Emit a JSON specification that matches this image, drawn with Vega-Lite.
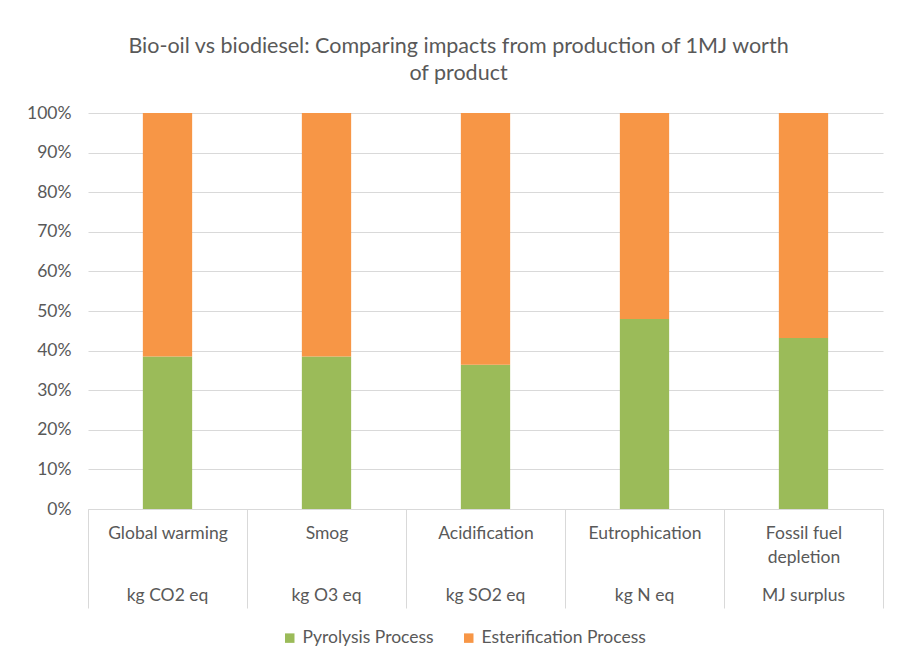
{
  "$schema": "https://vega.github.io/schema/vega-lite/v6.json",
  "width": 795,
  "height": 396,
  "autosize": "none",
  "padding": {"left": 88, "top": 113, "right": 15, "bottom": 157},
  "background": "white",
  "config": {
    "font": "Lato",
    "view": {"stroke": null},
    "axis": {"labelFont": "Lato", "labelColor": "#595959", "labelFontSize": 17.5}
  },
  "title": {
    "text": ["Bio-oil vs biodiesel: Comparing impacts from production of 1MJ worth", "of product"],
    "font": "Lato",
    "fontSize": 21.5,
    "fontWeight": "normal",
    "color": "#595959",
    "lineHeight": 27,
    "anchor": "middle",
    "dx": -27,
    "offset": 20
  },
  "data": {
    "values": [
      {"category": "Global warming", "unit": "kg CO2 eq", "process": "Pyrolysis Process", "share": 0.385},
      {"category": "Global warming", "unit": "kg CO2 eq", "process": "Esterification Process", "share": 0.615},
      {"category": "Smog", "unit": "kg O3 eq", "process": "Pyrolysis Process", "share": 0.385},
      {"category": "Smog", "unit": "kg O3 eq", "process": "Esterification Process", "share": 0.615},
      {"category": "Acidification", "unit": "kg SO2 eq", "process": "Pyrolysis Process", "share": 0.364},
      {"category": "Acidification", "unit": "kg SO2 eq", "process": "Esterification Process", "share": 0.636},
      {"category": "Eutrophication", "unit": "kg N eq", "process": "Pyrolysis Process", "share": 0.48},
      {"category": "Eutrophication", "unit": "kg N eq", "process": "Esterification Process", "share": 0.52},
      {"category": "Fossil fuel depletion", "unit": "MJ surplus", "process": "Pyrolysis Process", "share": 0.432},
      {"category": "Fossil fuel depletion", "unit": "MJ surplus", "process": "Esterification Process", "share": 0.568}
    ]
  },
  "layer": [
    {
      "mark": {"type": "bar", "width": {"band": 0.31}},
      "encoding": {
        "x": {
          "field": "category",
          "type": "nominal",
          "sort": null,
          "scale": {"paddingInner": 0, "paddingOuter": 0},
          "axis": {
            "title": null,
            "orient": "bottom",
            "labelAngle": 0,
            "labelBaseline": "top",
            "labelPadding": -84,
            "labelLineHeight": 24,
            "labelExpr": "datum.value == 'Fossil fuel depletion' ? ['Fossil fuel', 'depletion'] : datum.value",
            "tickBand": "extent",
            "tickSize": 99,
            "tickColor": "#d9d9d9",
            "domainColor": "#d9d9d9"
          }
        },
        "y": {
          "field": "share",
          "type": "quantitative",
          "stack": "zero",
          "scale": {"domain": [0, 1]},
          "axis": {
            "title": null,
            "format": ".0%",
            "values": [0, 0.1, 0.2, 0.3, 0.4, 0.5, 0.6, 0.7, 0.8, 0.9, 1],
            "ticks": false,
            "domain": false,
            "labelPadding": 17,
            "gridColor": "#d9d9d9"
          }
        },
        "color": {
          "field": "process",
          "type": "nominal",
          "sort": ["Pyrolysis Process", "Esterification Process"],
          "scale": {"domain": ["Pyrolysis Process", "Esterification Process"], "range": ["#9BBB59", "#F79646"]},
          "legend": {
            "title": null,
            "orient": "none",
            "legendX": 193,
            "legendY": 516,
            "direction": "horizontal",
            "symbolType": "square",
            "symbolSize": 90,
            "symbolStrokeWidth": 0,
            "labelFont": "Lato",
            "labelFontSize": 17.5,
            "labelColor": "#595959",
            "labelLimit": 400,
            "columnPadding": 26
          }
        },
        "order": {"field": "process", "sort": "descending"}
      }
    },
    {
      "mark": {"type": "bar", "opacity": 0},
      "encoding": {
        "x": {
          "field": "unit",
          "type": "nominal",
          "sort": null,
          "scale": {"paddingInner": 0, "paddingOuter": 0},
          "axis": {
            "title": null,
            "orient": "bottom",
            "labelAngle": 0,
            "labelBaseline": "top",
            "labelPadding": 77,
            "ticks": false,
            "domain": false
          }
        }
      }
    }
  ],
  "resolve": {"scale": {"x": "independent"}, "axis": {"x": "independent"}}
}
